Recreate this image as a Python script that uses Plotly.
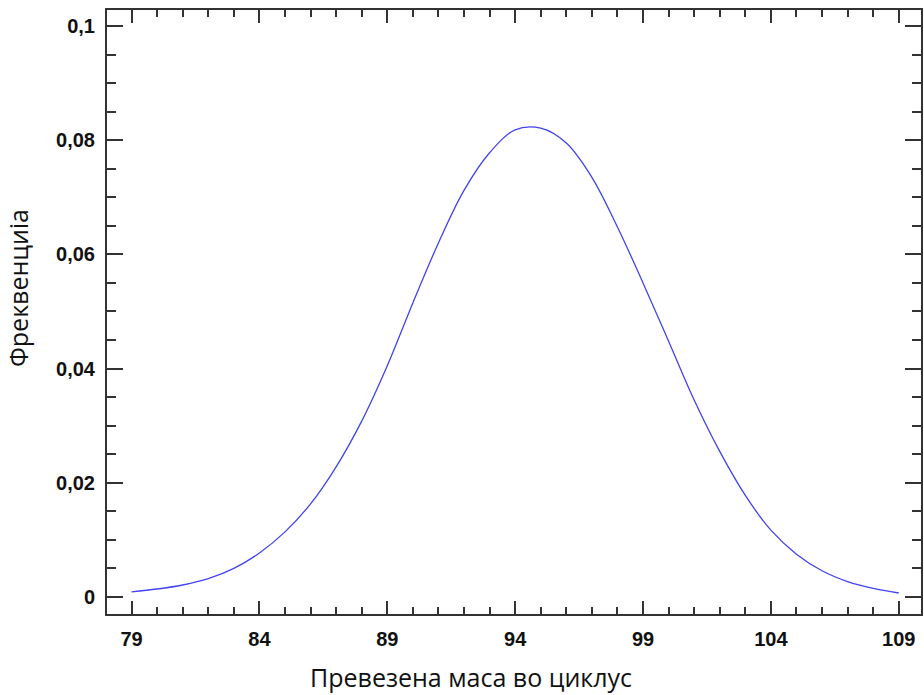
import plotly.graph_objects as go

# Transported mass per cycle and its frequency
mass = [79, 80, 81, 82, 83, 84, 85, 86, 87, 88, 89, 90, 91, 92, 93, 94,
        95, 96, 97, 98, 99, 100, 101, 102, 103, 104, 105, 106, 107, 108, 109]
freq = [0.0009, 0.0014, 0.0021, 0.0032, 0.0050, 0.0077, 0.0114, 0.0163, 0.0228,
        0.0308, 0.0405, 0.0515, 0.0620, 0.0712, 0.0778, 0.0818,
        0.0821, 0.0795, 0.0735, 0.0648, 0.0550, 0.0448, 0.0345, 0.0255, 0.0178,
        0.0117, 0.0075, 0.0046, 0.0027, 0.0015, 0.0007]

x_title = "Превезена маса во циклус"
y_title = "Фреквенциіа"

axis_color = "#333333"
tick_font = dict(family="Liberation Sans, Arial, sans-serif", size=20,
                 color="#111111", weight="bold")
title_font = dict(family="Open Sans, sans-serif", size=25, color="#111111")

fig = go.Figure()
fig.add_trace(go.Scatter(
    x=mass, y=freq, mode="lines",
    line=dict(color="#4343ef", width=1.3, shape="spline", smoothing=1.0),
    showlegend=False,
))

fig.update_layout(
    width=924, height=695,
    margin=dict(l=107, r=1, t=10, b=81),
    paper_bgcolor="white", plot_bgcolor="white",
    separators=",.",
)

fig.update_xaxes(
    range=[78.04, 109.87], tick0=79, dtick=5,
    showgrid=False, zeroline=False,
    showline=True, linecolor=axis_color, linewidth=2, mirror="ticks",
    ticks="inside", ticklen=13, tickwidth=2, tickcolor=axis_color,
    minor=dict(dtick=1, tick0=79, ticks="inside", ticklen=7, tickwidth=2,
               tickcolor=axis_color, showgrid=False),
    tickfont=tick_font, ticklabelstandoff=6,
)
fig.update_yaxes(
    range=[-0.00298, 0.1028], tick0=0, dtick=0.02,
    showgrid=False, zeroline=False,
    showline=True, linecolor=axis_color, linewidth=2, mirror="ticks",
    ticks="inside", ticklen=16, tickwidth=2, tickcolor=axis_color,
    minor=dict(dtick=0.005, tick0=0, ticks="inside", ticklen=9, tickwidth=2,
               tickcolor=axis_color, showgrid=False),
    tickfont=tick_font, ticklabelstandoff=6,
)

fig.add_annotation(text=x_title, xref="paper", yref="paper",
                   x=0.4467, y=-0.104, xanchor="center", yanchor="middle",
                   showarrow=False, font=title_font)
fig.add_annotation(text=y_title, xref="paper", yref="paper",
                   x=-0.109, y=0.54, xanchor="center", yanchor="middle",
                   textangle=-90, showarrow=False, font=title_font)

fig.write_html("out.html")
